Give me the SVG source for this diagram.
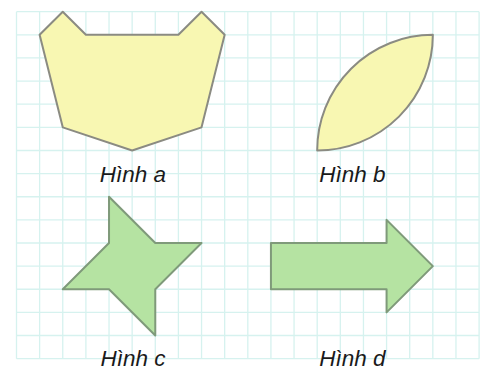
<svg xmlns="http://www.w3.org/2000/svg" width="482" height="374" viewBox="0 0 482 374">
<style>
.grid line{stroke:#d6f2ef;stroke-width:1.3}
.yel{fill:#f8f7b2;stroke:#8b8b82;stroke-width:2;stroke-linejoin:round}
.grn{fill:#b5e3a2;stroke:#7f9a7a;stroke-width:2;stroke-linejoin:round}
.lbl{font-family:"Liberation Sans",Arial,sans-serif;font-style:italic;font-size:22.5px;fill:#1a1a1a;text-anchor:middle}
</style>
<rect width="482" height="374" fill="#ffffff"/>
<g class="grid" id="grid">
<line x1="16.5" y1="11.7" x2="16.5" y2="358.65"/>
<line x1="39.63" y1="11.7" x2="39.63" y2="358.65"/>
<line x1="62.76" y1="11.7" x2="62.76" y2="358.65"/>
<line x1="85.89" y1="11.7" x2="85.89" y2="358.65"/>
<line x1="109.02" y1="11.7" x2="109.02" y2="358.65"/>
<line x1="132.15" y1="11.7" x2="132.15" y2="358.65"/>
<line x1="155.28" y1="11.7" x2="155.28" y2="358.65"/>
<line x1="178.41" y1="11.7" x2="178.41" y2="358.65"/>
<line x1="201.54" y1="11.7" x2="201.54" y2="358.65"/>
<line x1="224.67" y1="11.7" x2="224.67" y2="358.65"/>
<line x1="247.8" y1="11.7" x2="247.8" y2="358.65"/>
<line x1="270.93" y1="11.7" x2="270.93" y2="358.65"/>
<line x1="294.06" y1="11.7" x2="294.06" y2="358.65"/>
<line x1="317.19" y1="11.7" x2="317.19" y2="358.65"/>
<line x1="340.32" y1="11.7" x2="340.32" y2="358.65"/>
<line x1="363.45" y1="11.7" x2="363.45" y2="358.65"/>
<line x1="386.58" y1="11.7" x2="386.58" y2="358.65"/>
<line x1="409.71" y1="11.7" x2="409.71" y2="358.65"/>
<line x1="432.84" y1="11.7" x2="432.84" y2="358.65"/>
<line x1="455.97" y1="11.7" x2="455.97" y2="358.65"/>
<line x1="479.1" y1="11.7" x2="479.1" y2="358.65"/>
<line x1="16.5" y1="11.7" x2="479.1" y2="11.7"/>
<line x1="16.5" y1="34.83" x2="479.1" y2="34.83"/>
<line x1="16.5" y1="57.96" x2="479.1" y2="57.96"/>
<line x1="16.5" y1="81.09" x2="479.1" y2="81.09"/>
<line x1="16.5" y1="104.22" x2="479.1" y2="104.22"/>
<line x1="16.5" y1="127.35" x2="479.1" y2="127.35"/>
<line x1="16.5" y1="150.48" x2="479.1" y2="150.48"/>
<line x1="16.5" y1="173.61" x2="479.1" y2="173.61"/>
<line x1="16.5" y1="196.74" x2="479.1" y2="196.74"/>
<line x1="16.5" y1="219.87" x2="479.1" y2="219.87"/>
<line x1="16.5" y1="243" x2="479.1" y2="243"/>
<line x1="16.5" y1="266.13" x2="479.1" y2="266.13"/>
<line x1="16.5" y1="289.26" x2="479.1" y2="289.26"/>
<line x1="16.5" y1="312.39" x2="479.1" y2="312.39"/>
<line x1="16.5" y1="335.52" x2="479.1" y2="335.52"/>
<line x1="16.5" y1="358.65" x2="479.1" y2="358.65"/>
</g>
<g id="hinh-a">
<polygon class="yel" points="62.76,11.7 85.89,34.83 178.41,34.83 201.54,11.7 224.67,34.83 201.54,127.35 132.15,150.48 62.76,127.35 39.63,34.83"/>
<text class="lbl" x="133" y="181.5">Hình a</text>
</g>
<g id="hinh-b">
<path class="yel" d="M317.19,150.48 A115.65,115.65 0 0 1 432.84,34.83 A115.65,115.65 0 0 1 317.19,150.48 Z"/>
<text class="lbl" x="352.5" y="181.5">Hình b</text>
</g>
<g id="hinh-c">
<polygon class="grn" points="109.02,196.74 109.02,243 62.76,289.26 109.02,289.26 155.28,335.52 155.28,289.26 201.54,243 155.28,243"/>
<text class="lbl" x="133" y="366">Hình c</text>
</g>
<g id="hinh-d">
<polygon class="grn" points="270.93,243 386.58,243 386.58,219.87 432.84,266.13 386.58,312.39 386.58,289.26 270.93,289.26"/>
<text class="lbl" x="352.5" y="365.5">Hình d</text>
</g>
<g id="connectors"/>
</svg>
